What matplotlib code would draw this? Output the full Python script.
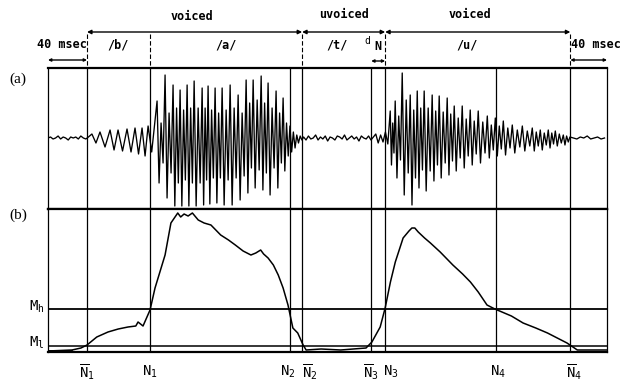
import numpy as np
import matplotlib
matplotlib.use("Agg")
import matplotlib.pyplot as plt
import matplotlib.transforms as mtrans

# ------------------------------------------------------------
# Данные (время в мс, амплитуды в условных единицах)
# ------------------------------------------------------------
# границы (вертикальные линии)
bounds = {'N1b': 40.0, 'N1': 104.6, 'N2': 248.2, 'N2b': 260.5,
          'N3b': 331.3, 'N3': 345.6, 'N4': 459.5, 'N4b': 535.4}
T_END = 573.0

# пороги энергии
M_H = 43
M_L = 6

# шум перед /b/
pre_noise = [0, 1, -1, 0, 2, -1, 1, 0, -2, 1, 0, 1, -1, 2, 0, -1, 1]

# /b/ - периоды
b_t = [45.0, 53.3, 63.6, 71.8, 81.0, 89.2, 96.4, 102.6]
b_top = [4, 6, 8, 8, 9, 10, 10, 12]
b_bot = [-5, -9, -12, -13, -14, -16, -18, -14]

# /a/ - периоды
a_t = [111.8, 120.0, 128.2, 135.4, 142.6, 149.8, 158.0, 164.1, 171.3,
       178.5, 186.7, 194.9, 203.1, 210.3, 218.5, 225.6, 233.8, 241.0]
a_top = [37, 63, 53, 48, 53, 57, 50, 52, 50, 50, 53, 43, 58, 58, 62, 55, 47, 40]
a_bot = [-45, -60, -68, -68, -68, -68, -67, -66, -65, -67, -67, -62, -55, -50,
         -52, -57, -50, -33]
a_mtop = [15, 25, 30, 28, 30, 30, 30, 28, 25, 28, 30, 25, 35, 38, 35, 30, 25, 15]
a_mbot = [-25, -35, -45, -42, -45, -45, -42, -40, -40, -42, -40, -38, -30, -32,
          -35, -30, -25, -18]
a_tail = [12, -14, 6, -10, 3, -5, 2, -2]

# /t/ - шум
t_noise = [1, -2, 2, -1, 0, 3, -2, 1, -1, 2, -3, 1, 0, -2, 2, 1, -1, 3, -2, 0,
           2, -1, 1, -3, 2, 0, -1, 2, -2, 1, 4, -5, 3, -4, 6, -6]

# /u/ - периоды
u_t = [350.8, 355.9, 363.1, 371.3, 378.5, 385.6, 393.8, 401.0, 409.2, 416.4,
       424.6, 432.8, 441.0, 450.3, 458.5, 466.7, 475.9, 486.2, 496.4, 504.6,
       512.8, 520.0, 528.2]
u_top = [27, 37, 65, 43, 47, 47, 43, 42, 40, 32, 32, 28, 27, 22, 20, 17, 13, 12,
         10, 8, 8, 7, 3]
u_bot = [-27, -40, -57, -67, -50, -53, -43, -40, -37, -33, -30, -27, -25, -20,
         -18, -17, -15, -13, -13, -12, -10, -8, -7]
u_mtop = [15, 22, 38, 28, 30, 30, 27, 26, 24, 20, 19, 17, 16, 13, 12, 10, 8, 7,
          6, 5, 5, 4, 2]
u_mbot = [-15, -22, -35, -40, -32, -33, -27, -25, -23, -20, -18, -16, -15, -12,
          -11, -10, -9, -8, -8, -7, -6, -5, -4]

post_noise = [1, 0, -1, 1, 0, 2, -1, 0, 1, -1, 0]

# энергия (b)
e_t = [0, 24.6, 33.8, 40, 50, 61.5, 72, 82, 90, 92.3, 97.4, 104.6, 109.7, 120,
       126, 133, 136, 139.5, 143.6, 148, 154, 160, 167, 177, 185, 192, 200, 208,
       213, 218, 221, 225.6, 231, 236, 241, 246, 251, 256, 261.5, 264.6, 280,
       300, 326, 332, 340.5, 345.6, 351, 356, 364, 370, 373, 376, 379.5, 386,
       392, 402, 415, 425, 433, 441, 450, 456, 460.5, 475, 487, 500, 512, 522,
       532, 542.6, 563, 573]
e_val = [1, 2, 4, 7, 15, 20, 23, 25, 26, 30, 26, 42, 64, 97, 129, 139, 135, 138,
         136, 139, 132, 129, 127, 117, 112, 107, 101, 97, 99, 102, 98, 94, 87, 77,
         64, 47, 24, 19, 7, 2, 3, 2, 4, 10, 25, 44, 70, 90, 114, 121, 124, 124,
         120, 114, 109, 100, 87, 78, 70, 60, 47, 44, 42, 36, 29, 24, 19, 14, 9, 2,
         2, 2]


def periods(starts, end, *levels):
    """Ломаная через экстремумы каждого периода"""
    xs, ys = [], []
    nxt = list(starts[1:]) + [end]
    n = len(levels)
    for k, (t0, t1) in enumerate(zip(starts, nxt)):
        for j in range(n):
            xs.append(t0 + (t1 - t0) * j / n)
            ys.append(levels[j][k])
    return xs, ys


def spread(vals, t0, t1):
    return list(np.linspace(t0, t1, len(vals), endpoint=False)), list(vals)


segs = [
    spread(pre_noise, 0, 44),
    periods(b_t, 110.0, b_top, b_bot),
    periods(a_t, 248.0, a_top, a_bot, a_mtop, a_mbot),
    spread(a_tail, 248.0, 262.0),
    spread(t_noise, 262.0, 350.8),
    periods(u_t, 535.0, u_top, u_bot, u_mtop, u_mbot),
    spread(post_noise, 535.0, T_END + 1),
]
wx = sum([s[0] for s in segs], [])
wy = sum([s[1] for s in segs], [])

# ------------------------------------------------------------
# Рисунок
# ------------------------------------------------------------
W, H = 621, 385
fig = plt.figure(figsize=(W / 100, H / 100), dpi=100)
fig.patch.set_facecolor('white')


def fy(ypx):
    return 1 - ypx / H


L, R = 48 / W, 607 / W
ax_a = fig.add_axes([L, fy(209), R - L, (209 - 68) / H])
ax_b = fig.add_axes([L, fy(352), R - L, (352 - 209) / H])

for ax in (ax_a, ax_b):
    ax.set_xlim(0, T_END)
    ax.set_xticks([])
    ax.set_yticks([])
    for side in ('left', 'right'):
        ax.spines[side].set_linewidth(0.9)
    for side in ('top', 'bottom'):
        ax.spines[side].set_linewidth(1.6)
    for key in ('N1b', 'N1', 'N2', 'N2b', 'N3b', 'N3', 'N4', 'N4b'):
        ax.axvline(bounds[key], color='black', lw=0.9)

ax_a.set_ylim(-71, 70)
ax_a.plot(wx, wy, color='black', lw=0.95)

ax_b.set_ylim(0, 143)
ax_b.axhline(M_H, color='black', lw=1.3)
ax_b.axhline(M_L, color='black', lw=1.1)
ax_b.plot(e_t, e_val, color='black', lw=1.1)
ax_b.plot([0, 24], [1.5, 1.5], color='black', lw=2.0)

# ------------------------------------------------------------
# Подписи
# ------------------------------------------------------------
tr = mtrans.blended_transform_factory(ax_a.transData, fig.transFigure)
mono = dict(family='DejaVu Sans Mono', fontsize=8.5, color='black',
            weight='bold')


def arrow(x0, x1, ypx, head=3):
    ax_a.annotate('', xy=(x1, fy(ypx)), xytext=(x0, fy(ypx)),
                  xycoords=tr, textcoords=tr,
                  arrowprops=dict(arrowstyle='<|-|>', lw=1.0, color='black',
                                  mutation_scale=head * 2, shrinkA=0,
                                  shrinkB=0))


def dashed(x, y0px, y1px):
    ax_a.plot([x, x], [fy(y0px), fy(y1px)], transform=tr, color='black',
              lw=0.8, ls=(0, (4, 2)), clip_on=False)


arrow(bounds['N1b'], bounds['N2b'], 32)
arrow(bounds['N2b'], bounds['N3'], 32)
arrow(bounds['N3'], bounds['N4b'], 32)
ax_a.text(148, fy(17), 'voiced', transform=tr, ha='center', va='center', **mono)
ax_a.text(303, fy(15), 'uvoiced', transform=tr, ha='center', va='center', **mono)
ax_a.text(432, fy(15), 'voiced', transform=tr, ha='center', va='center', **mono)

for key in ('N1b', 'N1', 'N2b', 'N3', 'N4b'):
    dashed(bounds[key], 34, 68)

ax_a.text(14, fy(45), '40 msec', transform=tr, ha='center', va='center', **mono)
ax_a.text(562, fy(45), '40 msec', transform=tr, ha='center', va='center', **mono)
arrow(0, bounds['N1b'], 60, head=2)
arrow(bounds['N4b'], T_END, 60, head=2)
arrow(bounds['N3b'], bounds['N3'], 61, head=2)

ax_a.text(72, fy(45), '/b/', transform=tr, ha='center', va='center', **mono)
ax_a.text(182, fy(45), '/a/', transform=tr, ha='center', va='center', **mono)
ax_a.text(296, fy(45), '/t/', transform=tr, ha='center', va='center', **mono)
ax_a.text(327, fy(41), 'd', transform=tr, ha='center', va='center',
          family='DejaVu Sans Mono', fontsize=7)
ax_a.text(338, fy(46), 'N', transform=tr, ha='center', va='center', **mono)
ax_a.text(430, fy(45), '/u/', transform=tr, ha='center', va='center', **mono)

serif = dict(family='Liberation Serif', fontsize=11, color='black')
fig.text(18 / W, fy(79), '(a)', ha='center', va='center', **serif)
fig.text(18 / W, fy(215), '(b)', ha='center', va='center', **serif)

trb = mtrans.blended_transform_factory(fig.transFigure, ax_b.transData)
ax_b.text(37 / W, M_H + 2, r'$\mathtt{M}_\mathtt{h}$', transform=trb,
          ha='center', va='center', fontsize=10)
ax_b.text(37 / W, M_L + 3, r'$\mathtt{M}_\mathtt{l}$', transform=trb,
          ha='center', va='center', fontsize=10)

bottom_labels = [
    ('N1b', r'$\overline{\mathtt{N}}_\mathtt{1}$', 0),
    ('N1', r'$\mathtt{N}_\mathtt{1}$', 0),
    ('N2', r'$\mathtt{N}_\mathtt{2}$', -2),
    ('N2b', r'$\overline{\mathtt{N}}_\mathtt{2}$', 8),
    ('N3b', r'$\overline{\mathtt{N}}_\mathtt{3}$', 0),
    ('N3', r'$\mathtt{N}_\mathtt{3}$', 6),
    ('N4', r'$\mathtt{N}_\mathtt{4}$', 2),
    ('N4b', r'$\overline{\mathtt{N}}_\mathtt{4}$', 4),
]
for key, lab, dx in bottom_labels:
    ax_a.text(bounds[key] + dx, fy(372), lab, transform=tr, ha='center',
              va='center', fontsize=10)

fig.savefig('out.png', dpi=100, facecolor='white')
